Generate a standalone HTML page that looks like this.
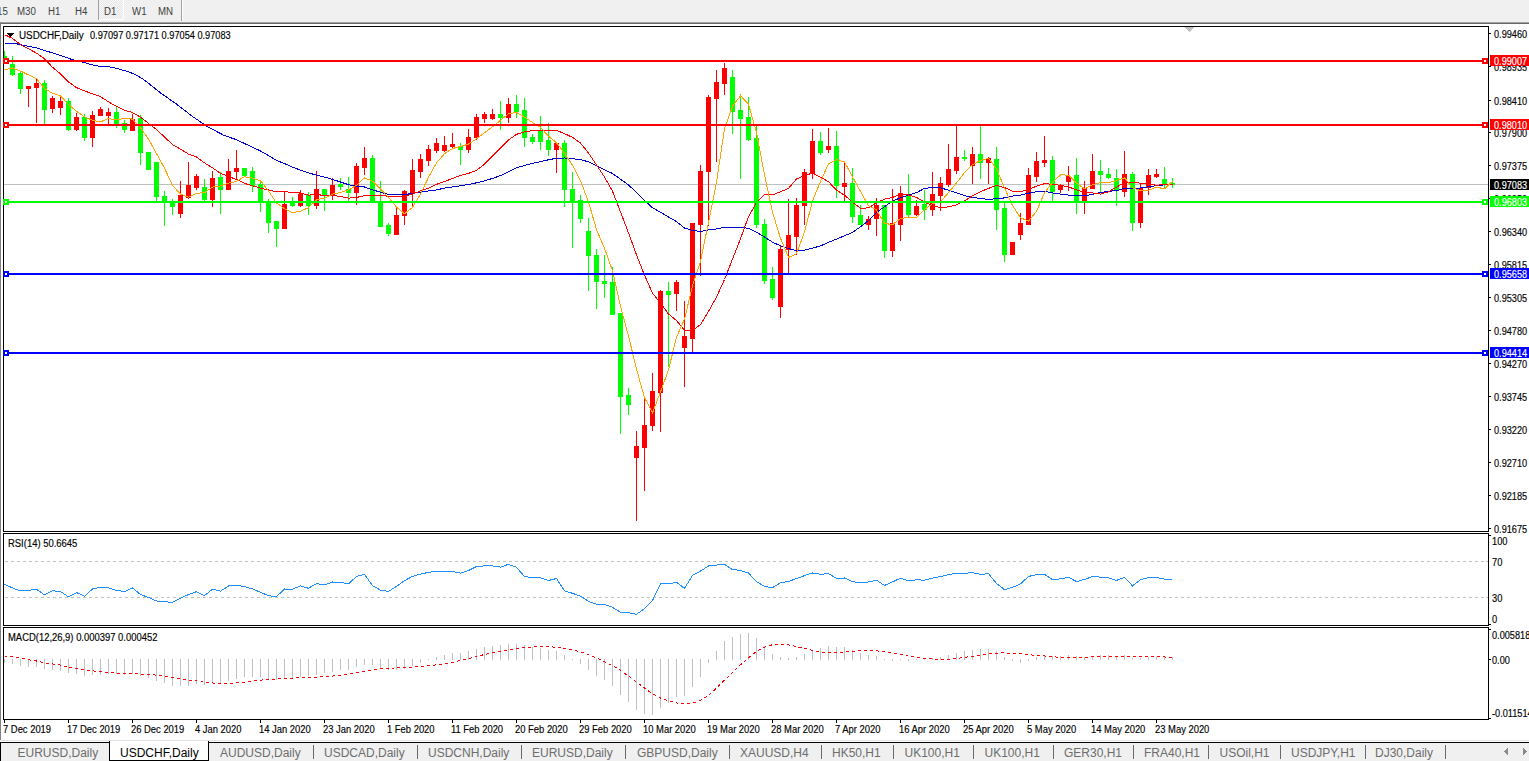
<!DOCTYPE html><html><head><meta charset="utf-8"><style>
*{margin:0;padding:0;box-sizing:border-box}
html,body{width:1529px;height:761px;overflow:hidden;background:#fff;font-family:"Liberation Sans", sans-serif;}
.a{position:absolute;white-space:pre;line-height:1}
.t{position:absolute;white-space:pre;line-height:1;-webkit-text-stroke:0.15px currentColor}
.ax{position:absolute;font-size:9.2px;color:#000;white-space:pre;line-height:1}
.tab{position:absolute;font-size:12px;color:#6d6d6d;white-space:pre;line-height:1;top:746px}
.sep{position:absolute;top:745px;width:1px;height:14px;background:#6a6a6a}
</style></head><body>

<div class="a" style="left:0;top:0;width:1529px;height:22px;background:#f0f0f0"></div>
<div class="a" style="left:0;top:22px;width:1529px;height:1px;background:#a0a0a0"></div>
<div class="a" style="left:0;top:23px;width:1529px;height:1px;background:#696969"></div>
<div class="a" style="left:98px;top:0;width:25px;height:19px;background:repeating-conic-gradient(#f8f8f8 0 25%,#e6e6e6 0 50%) 0 0/2px 2px"></div>
<div class="a" style="left:98px;top:0;width:1px;height:20px;background:#a0a0a0"></div>
<div class="a" style="left:123px;top:0;width:1px;height:20px;background:#fff"></div>
<div class="a" style="left:99px;top:19px;width:25px;height:1px;background:#fff"></div>
<div class="a" style="left:181px;top:0;width:1px;height:21px;background:#a0a0a0"></div>
<div class="a" style="left:182px;top:0;width:1px;height:21px;background:#fff"></div>
<div class="t" style="left:-3.3px;top:7px;font-size:10px;color:#404040;transform:scaleX(0.97);transform-origin:0 0;-webkit-text-stroke:0;">15</div>
<div class="t" style="left:17px;top:7px;font-size:10px;color:#404040;transform:scaleX(0.97);transform-origin:0 0;-webkit-text-stroke:0;">M30</div>
<div class="t" style="left:48px;top:7px;font-size:10px;color:#404040;transform:scaleX(0.97);transform-origin:0 0;-webkit-text-stroke:0;">H1</div>
<div class="t" style="left:75px;top:7px;font-size:10px;color:#404040;transform:scaleX(0.97);transform-origin:0 0;-webkit-text-stroke:0;">H4</div>
<div class="t" style="left:104px;top:7px;font-size:10px;color:#404040;transform:scaleX(0.97);transform-origin:0 0;-webkit-text-stroke:0;">D1</div>
<div class="t" style="left:131.5px;top:7px;font-size:10px;color:#404040;transform:scaleX(0.97);transform-origin:0 0;-webkit-text-stroke:0;">W1</div>
<div class="t" style="left:158px;top:7px;font-size:10px;color:#404040;transform:scaleX(0.97);transform-origin:0 0;-webkit-text-stroke:0;">MN</div>
<div class="a" style="left:0;top:22px;width:1px;height:718px;background:#808080"></div>
<div class="a" style="left:3px;top:26px;width:1486px;height:506px;border:1px solid #000"></div>
<div class="a" style="left:3px;top:533px;width:1486px;height:93px;border:1px solid #000"></div>
<div class="a" style="left:3px;top:627px;width:1486px;height:93px;border:1px solid #000"></div>
<div class="a" style="left:0;top:740px;width:1529px;height:1px;background:#e3e3e3"></div>
<div class="a" style="left:0;top:742px;width:1529px;height:1px;background:#000"></div>
<div class="a" style="left:0;top:743px;width:1529px;height:18px;background:#f0f0f0"></div>
<div class="a" style="left:0;top:742px;width:1px;height:19px;background:#000"></div>
<div class="a" style="left:109px;top:741px;width:100px;height:20px;background:#fff;border:1px solid #000;border-top:none"></div>
<div class="t" style="left:17.5px;top:747px;font-size:12px;color:#6d6d6d;-webkit-text-stroke:0;">EURUSD,Daily</div>
<div class="t" style="left:120px;top:747px;font-size:12px;color:#000;-webkit-text-stroke:0;">USDCHF,Daily</div>
<div class="t" style="left:220px;top:747px;font-size:12px;color:#6d6d6d;-webkit-text-stroke:0;">AUDUSD,Daily</div>
<div class="t" style="left:324px;top:747px;font-size:12px;color:#6d6d6d;-webkit-text-stroke:0;">USDCAD,Daily</div>
<div class="t" style="left:428px;top:747px;font-size:12px;color:#6d6d6d;-webkit-text-stroke:0;">USDCNH,Daily</div>
<div class="t" style="left:532px;top:747px;font-size:12px;color:#6d6d6d;-webkit-text-stroke:0;">EURUSD,Daily</div>
<div class="t" style="left:637px;top:747px;font-size:12px;color:#6d6d6d;-webkit-text-stroke:0;">GBPUSD,Daily</div>
<div class="t" style="left:740px;top:747px;font-size:12px;color:#6d6d6d;-webkit-text-stroke:0;">XAUUSD,H4</div>
<div class="t" style="left:832px;top:747px;font-size:12px;color:#6d6d6d;-webkit-text-stroke:0;">HK50,H1</div>
<div class="t" style="left:904.5px;top:747px;font-size:12px;color:#6d6d6d;-webkit-text-stroke:0;">UK100,H1</div>
<div class="t" style="left:984.5px;top:747px;font-size:12px;color:#6d6d6d;-webkit-text-stroke:0;">UK100,H1</div>
<div class="t" style="left:1064px;top:747px;font-size:12px;color:#6d6d6d;-webkit-text-stroke:0;">GER30,H1</div>
<div class="t" style="left:1144px;top:747px;font-size:12px;color:#6d6d6d;-webkit-text-stroke:0;">FRA40,H1</div>
<div class="t" style="left:1219.5px;top:747px;font-size:12px;color:#6d6d6d;-webkit-text-stroke:0;">USOil,H1</div>
<div class="t" style="left:1291px;top:747px;font-size:12px;color:#6d6d6d;-webkit-text-stroke:0;">USDJPY,H1</div>
<div class="t" style="left:1375px;top:747px;font-size:12px;color:#6d6d6d;-webkit-text-stroke:0;">DJ30,Daily</div>
<div class="sep" style="left:313px"></div>
<div class="sep" style="left:417px"></div>
<div class="sep" style="left:521px"></div>
<div class="sep" style="left:625px"></div>
<div class="sep" style="left:729px"></div>
<div class="sep" style="left:821px"></div>
<div class="sep" style="left:893px"></div>
<div class="sep" style="left:973px"></div>
<div class="sep" style="left:1053px"></div>
<div class="sep" style="left:1133px"></div>
<div class="sep" style="left:1208px"></div>
<div class="sep" style="left:1280px"></div>
<div class="sep" style="left:1365px"></div>
<div class="sep" style="left:1445px"></div>
<div class="a" style="left:1504px;top:751px;width:1px;height:1px;background:#8a8a8a"></div><div class="a" style="left:1505px;top:750px;width:1px;height:3px;background:#8a8a8a"></div><div class="a" style="left:1506px;top:749px;width:1px;height:5px;background:#8a8a8a"></div><div class="a" style="left:1507px;top:748px;width:1px;height:7px;background:#8a8a8a"></div><div class="a" style="left:1523px;top:748px;width:1px;height:7px;background:#8a8a8a"></div><div class="a" style="left:1524px;top:749px;width:1px;height:5px;background:#8a8a8a"></div><div class="a" style="left:1525px;top:750px;width:1px;height:3px;background:#8a8a8a"></div><div class="a" style="left:1526px;top:751px;width:1px;height:1px;background:#8a8a8a"></div>
<div class="t" style="left:1494px;top:30px;font-size:10px;color:#000;transform:scaleX(0.917);transform-origin:0 0;">0.99460</div>
<div class="t" style="left:1494px;top:63px;font-size:10px;color:#000;transform:scaleX(0.917);transform-origin:0 0;">0.98935</div>
<div class="t" style="left:1494px;top:97px;font-size:10px;color:#000;transform:scaleX(0.917);transform-origin:0 0;">0.98410</div>
<div class="t" style="left:1494px;top:129px;font-size:10px;color:#000;transform:scaleX(0.917);transform-origin:0 0;">0.97900</div>
<div class="t" style="left:1494px;top:162px;font-size:10px;color:#000;transform:scaleX(0.917);transform-origin:0 0;">0.97375</div>
<div class="t" style="left:1494px;top:195px;font-size:10px;color:#000;transform:scaleX(0.917);transform-origin:0 0;">0.96850</div>
<div class="t" style="left:1494px;top:228px;font-size:10px;color:#000;transform:scaleX(0.917);transform-origin:0 0;">0.96340</div>
<div class="t" style="left:1494px;top:261px;font-size:10px;color:#000;transform:scaleX(0.917);transform-origin:0 0;">0.95815</div>
<div class="t" style="left:1494px;top:294px;font-size:10px;color:#000;transform:scaleX(0.917);transform-origin:0 0;">0.95305</div>
<div class="t" style="left:1494px;top:327px;font-size:10px;color:#000;transform:scaleX(0.917);transform-origin:0 0;">0.94780</div>
<div class="t" style="left:1494px;top:360px;font-size:10px;color:#000;transform:scaleX(0.917);transform-origin:0 0;">0.94270</div>
<div class="t" style="left:1494px;top:393px;font-size:10px;color:#000;transform:scaleX(0.917);transform-origin:0 0;">0.93745</div>
<div class="t" style="left:1494px;top:426px;font-size:10px;color:#000;transform:scaleX(0.917);transform-origin:0 0;">0.93220</div>
<div class="t" style="left:1494px;top:459px;font-size:10px;color:#000;transform:scaleX(0.917);transform-origin:0 0;">0.92710</div>
<div class="t" style="left:1494px;top:492px;font-size:10px;color:#000;transform:scaleX(0.917);transform-origin:0 0;">0.92185</div>
<div class="t" style="left:1494px;top:525px;font-size:10px;color:#000;transform:scaleX(0.917);transform-origin:0 0;">0.91675</div>
<div class="t" style="left:1492px;top:537px;font-size:10px;color:#000;transform:scaleX(0.93);transform-origin:0 0;">100</div>
<div class="t" style="left:1492px;top:558px;font-size:10px;color:#000;transform:scaleX(0.93);transform-origin:0 0;">70</div>
<div class="t" style="left:1492px;top:594px;font-size:10px;color:#000;transform:scaleX(0.93);transform-origin:0 0;">30</div>
<div class="t" style="left:1492px;top:615px;font-size:10px;color:#000;transform:scaleX(0.93);transform-origin:0 0;">0</div>
<div class="t" style="left:1492px;top:631px;font-size:10px;color:#000;transform:scaleX(0.917);transform-origin:0 0;">0.005818</div>
<div class="t" style="left:1492px;top:656px;font-size:10px;color:#000;transform:scaleX(0.917);transform-origin:0 0;">0.00</div>
<div class="t" style="left:1492px;top:709px;font-size:10px;color:#000;transform:scaleX(0.917);transform-origin:0 0;">-0.011514</div>
<div class="t" style="left:3px;top:725px;font-size:10px;color:#000;transform:scaleX(0.94);transform-origin:0 0;">7 Dec 2019</div>
<div class="t" style="left:67px;top:725px;font-size:10px;color:#000;transform:scaleX(0.94);transform-origin:0 0;">17 Dec 2019</div>
<div class="t" style="left:131px;top:725px;font-size:10px;color:#000;transform:scaleX(0.94);transform-origin:0 0;">26 Dec 2019</div>
<div class="t" style="left:195px;top:725px;font-size:10px;color:#000;transform:scaleX(0.94);transform-origin:0 0;">4 Jan 2020</div>
<div class="t" style="left:259px;top:725px;font-size:10px;color:#000;transform:scaleX(0.94);transform-origin:0 0;">14 Jan 2020</div>
<div class="t" style="left:323px;top:725px;font-size:10px;color:#000;transform:scaleX(0.94);transform-origin:0 0;">23 Jan 2020</div>
<div class="t" style="left:387px;top:725px;font-size:10px;color:#000;transform:scaleX(0.94);transform-origin:0 0;">1 Feb 2020</div>
<div class="t" style="left:451px;top:725px;font-size:10px;color:#000;transform:scaleX(0.94);transform-origin:0 0;">11 Feb 2020</div>
<div class="t" style="left:515px;top:725px;font-size:10px;color:#000;transform:scaleX(0.94);transform-origin:0 0;">20 Feb 2020</div>
<div class="t" style="left:579px;top:725px;font-size:10px;color:#000;transform:scaleX(0.94);transform-origin:0 0;">29 Feb 2020</div>
<div class="t" style="left:643px;top:725px;font-size:10px;color:#000;transform:scaleX(0.94);transform-origin:0 0;">10 Mar 2020</div>
<div class="t" style="left:707px;top:725px;font-size:10px;color:#000;transform:scaleX(0.94);transform-origin:0 0;">19 Mar 2020</div>
<div class="t" style="left:771px;top:725px;font-size:10px;color:#000;transform:scaleX(0.94);transform-origin:0 0;">28 Mar 2020</div>
<div class="t" style="left:835px;top:725px;font-size:10px;color:#000;transform:scaleX(0.94);transform-origin:0 0;">7 Apr 2020</div>
<div class="t" style="left:899px;top:725px;font-size:10px;color:#000;transform:scaleX(0.94);transform-origin:0 0;">16 Apr 2020</div>
<div class="t" style="left:963px;top:725px;font-size:10px;color:#000;transform:scaleX(0.94);transform-origin:0 0;">25 Apr 2020</div>
<div class="t" style="left:1027px;top:725px;font-size:10px;color:#000;transform:scaleX(0.94);transform-origin:0 0;">5 May 2020</div>
<div class="t" style="left:1091px;top:725px;font-size:10px;color:#000;transform:scaleX(0.94);transform-origin:0 0;">14 May 2020</div>
<div class="t" style="left:1155px;top:725px;font-size:10px;color:#000;transform:scaleX(0.94);transform-origin:0 0;">23 May 2020</div>
<div class="t" style="left:18.5px;top:31px;font-size:10px;color:#000;transform:scaleX(0.985);transform-origin:0 0;">USDCHF,Daily</div>
<div class="t" style="left:90px;top:31px;font-size:10px;color:#000;transform:scaleX(0.92);transform-origin:0 0;">0.97097 0.97171 0.97054 0.97083</div>
<div class="t" style="left:7.5px;top:539px;font-size:10px;color:#000;transform:scaleX(0.944);transform-origin:0 0;">RSI(14) 50.6645</div>
<div class="t" style="left:7.5px;top:633px;font-size:10px;color:#000;transform:scaleX(0.943);transform-origin:0 0;">MACD(12,26,9) 0.000397 0.000452</div>
<svg class="a" style="left:0;top:0" width="1529" height="761" shape-rendering="crispEdges"><rect x="1489" y="33" width="2" height="1" fill="#000"/><rect x="1489" y="66" width="2" height="1" fill="#000"/><rect x="1489" y="100" width="2" height="1" fill="#000"/><rect x="1489" y="132" width="2" height="1" fill="#000"/><rect x="1489" y="165" width="2" height="1" fill="#000"/><rect x="1489" y="198" width="2" height="1" fill="#000"/><rect x="1489" y="231" width="2" height="1" fill="#000"/><rect x="1489" y="264" width="2" height="1" fill="#000"/><rect x="1489" y="297" width="2" height="1" fill="#000"/><rect x="1489" y="330" width="2" height="1" fill="#000"/><rect x="1489" y="363" width="2" height="1" fill="#000"/><rect x="1489" y="396" width="2" height="1" fill="#000"/><rect x="1489" y="429" width="2" height="1" fill="#000"/><rect x="1489" y="462" width="2" height="1" fill="#000"/><rect x="1489" y="495" width="2" height="1" fill="#000"/><rect x="1489" y="528" width="2" height="1" fill="#000"/><rect x="1489" y="535" width="2" height="1" fill="#000"/><rect x="1486" y="561" width="2" height="1" fill="#c0c0c0"/><rect x="1486" y="597" width="2" height="1" fill="#c0c0c0"/><rect x="1489" y="624" width="2" height="1" fill="#000"/><rect x="1489" y="629" width="2" height="1" fill="#000"/><rect x="1489" y="659" width="2" height="1" fill="#000"/><rect x="1489" y="718" width="2" height="1" fill="#000"/><line x1="5" y1="561.5" x2="1488" y2="561.5" stroke="#c0c0c0" stroke-width="1" stroke-dasharray="3,3"/><line x1="5" y1="597.5" x2="1488" y2="597.5" stroke="#c0c0c0" stroke-width="1" stroke-dasharray="3,3"/><rect x="4" y="720" width="1" height="3" fill="#000"/><rect x="68" y="720" width="1" height="3" fill="#000"/><rect x="132" y="720" width="1" height="3" fill="#000"/><rect x="196" y="720" width="1" height="3" fill="#000"/><rect x="260" y="720" width="1" height="3" fill="#000"/><rect x="324" y="720" width="1" height="3" fill="#000"/><rect x="388" y="720" width="1" height="3" fill="#000"/><rect x="452" y="720" width="1" height="3" fill="#000"/><rect x="516" y="720" width="1" height="3" fill="#000"/><rect x="580" y="720" width="1" height="3" fill="#000"/><rect x="644" y="720" width="1" height="3" fill="#000"/><rect x="708" y="720" width="1" height="3" fill="#000"/><rect x="772" y="720" width="1" height="3" fill="#000"/><rect x="836" y="720" width="1" height="3" fill="#000"/><rect x="900" y="720" width="1" height="3" fill="#000"/><rect x="964" y="720" width="1" height="3" fill="#000"/><rect x="1028" y="720" width="1" height="3" fill="#000"/><rect x="1092" y="720" width="1" height="3" fill="#000"/><rect x="1156" y="720" width="1" height="3" fill="#000"/><defs><clipPath id="cm"><rect x="4" y="27" width="1484" height="504"/></clipPath><clipPath id="cr"><rect x="4" y="534" width="1484" height="91"/></clipPath><clipPath id="cd"><rect x="4" y="628" width="1484" height="91"/></clipPath></defs><g clip-path="url(#cm)"><rect x="4" y="184" width="1484" height="1" fill="#c0c0c0"/><rect x="4" y="51" width="1" height="10" fill="#00ff00"/><rect x="4" y="56" width="3" height="5" fill="#00ff00"/><rect x="12" y="56" width="1" height="20" fill="#00ff00"/><rect x="10" y="64" width="5" height="11" fill="#00ff00"/><rect x="20" y="71" width="1" height="23" fill="#00ff00"/><rect x="18" y="73" width="5" height="16" fill="#00ff00"/><rect x="28" y="86" width="1" height="21" fill="#ff0000"/><rect x="26" y="86" width="5" height="3" fill="#ff0000"/><rect x="36" y="79" width="1" height="44" fill="#ff0000"/><rect x="34" y="83" width="5" height="5" fill="#ff0000"/><rect x="44" y="80" width="1" height="44" fill="#00ff00"/><rect x="42" y="83" width="5" height="27" fill="#00ff00"/><rect x="52" y="96" width="1" height="17" fill="#ff0000"/><rect x="50" y="98" width="5" height="11" fill="#ff0000"/><rect x="60" y="95" width="1" height="20" fill="#ff0000"/><rect x="58" y="101" width="5" height="7" fill="#ff0000"/><rect x="68" y="98" width="1" height="33" fill="#00ff00"/><rect x="66" y="101" width="5" height="29" fill="#00ff00"/><rect x="76" y="113" width="1" height="18" fill="#ff0000"/><rect x="74" y="117" width="5" height="13" fill="#ff0000"/><rect x="84" y="114" width="1" height="27" fill="#00ff00"/><rect x="82" y="117" width="5" height="21" fill="#00ff00"/><rect x="92" y="111" width="1" height="36" fill="#ff0000"/><rect x="90" y="115" width="5" height="23" fill="#ff0000"/><rect x="100" y="107" width="1" height="9" fill="#ff0000"/><rect x="98" y="109" width="5" height="7" fill="#ff0000"/><rect x="108" y="108" width="1" height="18" fill="#ff0000"/><rect x="106" y="112" width="5" height="4" fill="#ff0000"/><rect x="116" y="106" width="1" height="22" fill="#00ff00"/><rect x="114" y="112" width="5" height="13" fill="#00ff00"/><rect x="124" y="120" width="1" height="13" fill="#00ff00"/><rect x="122" y="123" width="5" height="7" fill="#00ff00"/><rect x="132" y="114" width="1" height="17" fill="#ff0000"/><rect x="130" y="119" width="5" height="12" fill="#ff0000"/><rect x="140" y="115" width="1" height="50" fill="#00ff00"/><rect x="138" y="118" width="5" height="35" fill="#00ff00"/><rect x="148" y="152" width="1" height="18" fill="#00ff00"/><rect x="146" y="152" width="5" height="18" fill="#00ff00"/><rect x="156" y="162" width="1" height="40" fill="#00ff00"/><rect x="154" y="162" width="5" height="35" fill="#00ff00"/><rect x="164" y="191" width="1" height="35" fill="#00ff00"/><rect x="162" y="196" width="5" height="7" fill="#00ff00"/><rect x="172" y="199" width="1" height="16" fill="#00ff00"/><rect x="170" y="201" width="5" height="6" fill="#00ff00"/><rect x="180" y="181" width="1" height="37" fill="#ff0000"/><rect x="178" y="195" width="5" height="19" fill="#ff0000"/><rect x="188" y="162" width="1" height="37" fill="#ff0000"/><rect x="186" y="185" width="5" height="13" fill="#ff0000"/><rect x="196" y="174" width="1" height="16" fill="#ff0000"/><rect x="194" y="176" width="5" height="12" fill="#ff0000"/><rect x="204" y="179" width="1" height="22" fill="#00ff00"/><rect x="202" y="187" width="5" height="13" fill="#00ff00"/><rect x="212" y="171" width="1" height="36" fill="#ff0000"/><rect x="210" y="178" width="5" height="22" fill="#ff0000"/><rect x="220" y="172" width="1" height="42" fill="#00ff00"/><rect x="218" y="177" width="5" height="13" fill="#00ff00"/><rect x="228" y="159" width="1" height="31" fill="#ff0000"/><rect x="226" y="171" width="5" height="19" fill="#ff0000"/><rect x="236" y="150" width="1" height="30" fill="#ff0000"/><rect x="234" y="168" width="5" height="4" fill="#ff0000"/><rect x="244" y="168" width="1" height="9" fill="#00ff00"/><rect x="242" y="168" width="5" height="8" fill="#00ff00"/><rect x="252" y="167" width="1" height="25" fill="#00ff00"/><rect x="250" y="171" width="5" height="15" fill="#00ff00"/><rect x="260" y="181" width="1" height="31" fill="#00ff00"/><rect x="258" y="184" width="5" height="19" fill="#00ff00"/><rect x="268" y="199" width="1" height="34" fill="#00ff00"/><rect x="266" y="202" width="5" height="21" fill="#00ff00"/><rect x="276" y="221" width="1" height="26" fill="#00ff00"/><rect x="274" y="221" width="5" height="8" fill="#00ff00"/><rect x="284" y="192" width="1" height="37" fill="#ff0000"/><rect x="282" y="204" width="5" height="25" fill="#ff0000"/><rect x="292" y="197" width="1" height="10" fill="#00ff00"/><rect x="290" y="201" width="5" height="5" fill="#00ff00"/><rect x="300" y="190" width="1" height="17" fill="#ff0000"/><rect x="298" y="194" width="5" height="12" fill="#ff0000"/><rect x="308" y="192" width="1" height="23" fill="#00ff00"/><rect x="306" y="195" width="5" height="11" fill="#00ff00"/><rect x="316" y="171" width="1" height="38" fill="#ff0000"/><rect x="314" y="189" width="5" height="17" fill="#ff0000"/><rect x="324" y="189" width="1" height="22" fill="#00ff00"/><rect x="322" y="189" width="5" height="7" fill="#00ff00"/><rect x="332" y="178" width="1" height="22" fill="#ff0000"/><rect x="330" y="185" width="5" height="11" fill="#ff0000"/><rect x="340" y="178" width="1" height="12" fill="#00ff00"/><rect x="338" y="184" width="5" height="3" fill="#00ff00"/><rect x="348" y="177" width="1" height="25" fill="#00ff00"/><rect x="346" y="189" width="5" height="4" fill="#00ff00"/><rect x="356" y="163" width="1" height="42" fill="#ff0000"/><rect x="354" y="166" width="5" height="27" fill="#ff0000"/><rect x="364" y="147" width="1" height="28" fill="#ff0000"/><rect x="362" y="158" width="5" height="10" fill="#ff0000"/><rect x="372" y="155" width="1" height="47" fill="#00ff00"/><rect x="370" y="158" width="5" height="44" fill="#00ff00"/><rect x="380" y="181" width="1" height="46" fill="#00ff00"/><rect x="378" y="201" width="5" height="26" fill="#00ff00"/><rect x="388" y="223" width="1" height="13" fill="#00ff00"/><rect x="386" y="225" width="5" height="9" fill="#00ff00"/><rect x="396" y="208" width="1" height="27" fill="#ff0000"/><rect x="394" y="215" width="5" height="20" fill="#ff0000"/><rect x="404" y="190" width="1" height="35" fill="#ff0000"/><rect x="402" y="191" width="5" height="25" fill="#ff0000"/><rect x="412" y="159" width="1" height="47" fill="#ff0000"/><rect x="410" y="170" width="5" height="24" fill="#ff0000"/><rect x="420" y="154" width="1" height="24" fill="#ff0000"/><rect x="418" y="159" width="5" height="13" fill="#ff0000"/><rect x="428" y="145" width="1" height="21" fill="#ff0000"/><rect x="426" y="149" width="5" height="12" fill="#ff0000"/><rect x="436" y="138" width="1" height="15" fill="#ff0000"/><rect x="434" y="143" width="5" height="8" fill="#ff0000"/><rect x="444" y="136" width="1" height="16" fill="#ff0000"/><rect x="442" y="145" width="5" height="6" fill="#ff0000"/><rect x="452" y="133" width="1" height="16" fill="#ff0000"/><rect x="450" y="144" width="5" height="3" fill="#ff0000"/><rect x="460" y="143" width="1" height="22" fill="#00ff00"/><rect x="458" y="146" width="5" height="4" fill="#00ff00"/><rect x="468" y="129" width="1" height="24" fill="#ff0000"/><rect x="466" y="137" width="5" height="13" fill="#ff0000"/><rect x="476" y="114" width="1" height="26" fill="#ff0000"/><rect x="474" y="117" width="5" height="21" fill="#ff0000"/><rect x="484" y="112" width="1" height="11" fill="#ff0000"/><rect x="482" y="114" width="5" height="5" fill="#ff0000"/><rect x="492" y="109" width="1" height="11" fill="#ff0000"/><rect x="490" y="114" width="5" height="5" fill="#ff0000"/><rect x="500" y="101" width="1" height="29" fill="#00ff00"/><rect x="498" y="114" width="5" height="4" fill="#00ff00"/><rect x="508" y="98" width="1" height="25" fill="#ff0000"/><rect x="506" y="104" width="5" height="14" fill="#ff0000"/><rect x="516" y="95" width="1" height="23" fill="#00ff00"/><rect x="514" y="104" width="5" height="8" fill="#00ff00"/><rect x="524" y="98" width="1" height="49" fill="#00ff00"/><rect x="522" y="110" width="5" height="28" fill="#00ff00"/><rect x="532" y="134" width="1" height="10" fill="#00ff00"/><rect x="530" y="137" width="5" height="5" fill="#00ff00"/><rect x="540" y="116" width="1" height="34" fill="#00ff00"/><rect x="538" y="131" width="5" height="11" fill="#00ff00"/><rect x="548" y="123" width="1" height="33" fill="#00ff00"/><rect x="546" y="140" width="5" height="10" fill="#00ff00"/><rect x="556" y="143" width="1" height="30" fill="#ff0000"/><rect x="554" y="143" width="5" height="7" fill="#ff0000"/><rect x="564" y="140" width="1" height="67" fill="#00ff00"/><rect x="562" y="143" width="5" height="47" fill="#00ff00"/><rect x="572" y="172" width="1" height="76" fill="#00ff00"/><rect x="570" y="189" width="5" height="14" fill="#00ff00"/><rect x="580" y="195" width="1" height="28" fill="#00ff00"/><rect x="578" y="200" width="5" height="19" fill="#00ff00"/><rect x="588" y="218" width="1" height="73" fill="#00ff00"/><rect x="586" y="231" width="5" height="25" fill="#00ff00"/><rect x="596" y="249" width="1" height="60" fill="#00ff00"/><rect x="594" y="255" width="5" height="27" fill="#00ff00"/><rect x="604" y="255" width="1" height="43" fill="#00ff00"/><rect x="602" y="281" width="5" height="3" fill="#00ff00"/><rect x="612" y="267" width="1" height="48" fill="#00ff00"/><rect x="610" y="282" width="5" height="33" fill="#00ff00"/><rect x="620" y="313" width="1" height="121" fill="#00ff00"/><rect x="618" y="313" width="5" height="84" fill="#00ff00"/><rect x="628" y="388" width="1" height="27" fill="#00ff00"/><rect x="626" y="395" width="5" height="10" fill="#00ff00"/><rect x="636" y="431" width="1" height="90" fill="#ff0000"/><rect x="634" y="446" width="5" height="12" fill="#ff0000"/><rect x="644" y="397" width="1" height="94" fill="#ff0000"/><rect x="642" y="425" width="5" height="23" fill="#ff0000"/><rect x="652" y="373" width="1" height="58" fill="#ff0000"/><rect x="650" y="391" width="5" height="35" fill="#ff0000"/><rect x="660" y="290" width="1" height="142" fill="#ff0000"/><rect x="658" y="291" width="5" height="102" fill="#ff0000"/><rect x="668" y="282" width="1" height="85" fill="#00ff00"/><rect x="666" y="291" width="5" height="4" fill="#00ff00"/><rect x="676" y="280" width="1" height="31" fill="#ff0000"/><rect x="674" y="282" width="5" height="12" fill="#ff0000"/><rect x="684" y="301" width="1" height="86" fill="#ff0000"/><rect x="682" y="336" width="5" height="12" fill="#ff0000"/><rect x="692" y="223" width="1" height="129" fill="#ff0000"/><rect x="690" y="223" width="5" height="116" fill="#ff0000"/><rect x="700" y="165" width="1" height="111" fill="#ff0000"/><rect x="698" y="171" width="5" height="54" fill="#ff0000"/><rect x="708" y="95" width="1" height="131" fill="#ff0000"/><rect x="706" y="97" width="5" height="75" fill="#ff0000"/><rect x="716" y="70" width="1" height="92" fill="#ff0000"/><rect x="714" y="82" width="5" height="17" fill="#ff0000"/><rect x="724" y="63" width="1" height="32" fill="#ff0000"/><rect x="722" y="68" width="5" height="16" fill="#ff0000"/><rect x="732" y="70" width="1" height="64" fill="#00ff00"/><rect x="730" y="77" width="5" height="35" fill="#00ff00"/><rect x="740" y="94" width="1" height="85" fill="#00ff00"/><rect x="738" y="110" width="5" height="9" fill="#00ff00"/><rect x="748" y="97" width="1" height="44" fill="#00ff00"/><rect x="746" y="117" width="5" height="23" fill="#00ff00"/><rect x="756" y="126" width="1" height="102" fill="#00ff00"/><rect x="754" y="138" width="5" height="87" fill="#00ff00"/><rect x="764" y="219" width="1" height="65" fill="#00ff00"/><rect x="762" y="224" width="5" height="57" fill="#00ff00"/><rect x="772" y="267" width="1" height="33" fill="#00ff00"/><rect x="770" y="279" width="5" height="19" fill="#00ff00"/><rect x="780" y="246" width="1" height="72" fill="#ff0000"/><rect x="778" y="249" width="5" height="58" fill="#ff0000"/><rect x="788" y="199" width="1" height="74" fill="#ff0000"/><rect x="786" y="235" width="5" height="15" fill="#ff0000"/><rect x="796" y="198" width="1" height="57" fill="#ff0000"/><rect x="794" y="205" width="5" height="32" fill="#ff0000"/><rect x="804" y="169" width="1" height="56" fill="#ff0000"/><rect x="802" y="172" width="5" height="34" fill="#ff0000"/><rect x="812" y="129" width="1" height="50" fill="#ff0000"/><rect x="810" y="141" width="5" height="33" fill="#ff0000"/><rect x="820" y="132" width="1" height="23" fill="#00ff00"/><rect x="818" y="141" width="5" height="12" fill="#00ff00"/><rect x="828" y="128" width="1" height="25" fill="#ff0000"/><rect x="826" y="146" width="5" height="4" fill="#ff0000"/><rect x="836" y="131" width="1" height="67" fill="#00ff00"/><rect x="834" y="146" width="5" height="40" fill="#00ff00"/><rect x="844" y="162" width="1" height="39" fill="#ff0000"/><rect x="842" y="183" width="5" height="4" fill="#ff0000"/><rect x="852" y="168" width="1" height="55" fill="#00ff00"/><rect x="850" y="183" width="5" height="34" fill="#00ff00"/><rect x="860" y="205" width="1" height="20" fill="#00ff00"/><rect x="858" y="215" width="5" height="10" fill="#00ff00"/><rect x="868" y="216" width="1" height="14" fill="#ff0000"/><rect x="866" y="219" width="5" height="6" fill="#ff0000"/><rect x="876" y="198" width="1" height="38" fill="#ff0000"/><rect x="874" y="205" width="5" height="14" fill="#ff0000"/><rect x="884" y="205" width="1" height="53" fill="#00ff00"/><rect x="882" y="205" width="5" height="46" fill="#00ff00"/><rect x="892" y="189" width="1" height="68" fill="#ff0000"/><rect x="890" y="223" width="5" height="28" fill="#ff0000"/><rect x="900" y="186" width="1" height="55" fill="#ff0000"/><rect x="898" y="193" width="5" height="32" fill="#ff0000"/><rect x="908" y="174" width="1" height="44" fill="#00ff00"/><rect x="906" y="194" width="5" height="21" fill="#00ff00"/><rect x="916" y="200" width="1" height="16" fill="#ff0000"/><rect x="914" y="206" width="5" height="9" fill="#ff0000"/><rect x="924" y="190" width="1" height="30" fill="#00ff00"/><rect x="922" y="204" width="5" height="6" fill="#00ff00"/><rect x="932" y="172" width="1" height="44" fill="#ff0000"/><rect x="930" y="194" width="5" height="16" fill="#ff0000"/><rect x="940" y="177" width="1" height="34" fill="#ff0000"/><rect x="938" y="183" width="5" height="13" fill="#ff0000"/><rect x="948" y="144" width="1" height="43" fill="#ff0000"/><rect x="946" y="169" width="5" height="16" fill="#ff0000"/><rect x="956" y="126" width="1" height="48" fill="#ff0000"/><rect x="954" y="157" width="5" height="14" fill="#ff0000"/><rect x="964" y="150" width="1" height="11" fill="#00ff00"/><rect x="962" y="157" width="5" height="2" fill="#00ff00"/><rect x="972" y="147" width="1" height="37" fill="#ff0000"/><rect x="970" y="154" width="5" height="12" fill="#ff0000"/><rect x="980" y="126" width="1" height="53" fill="#00ff00"/><rect x="978" y="154" width="5" height="9" fill="#00ff00"/><rect x="988" y="157" width="1" height="27" fill="#ff0000"/><rect x="986" y="158" width="5" height="5" fill="#ff0000"/><rect x="996" y="147" width="1" height="83" fill="#00ff00"/><rect x="994" y="159" width="5" height="51" fill="#00ff00"/><rect x="1004" y="203" width="1" height="59" fill="#00ff00"/><rect x="1002" y="208" width="5" height="47" fill="#00ff00"/><rect x="1012" y="242" width="1" height="13" fill="#ff0000"/><rect x="1010" y="242" width="5" height="13" fill="#ff0000"/><rect x="1020" y="213" width="1" height="27" fill="#ff0000"/><rect x="1018" y="223" width="5" height="12" fill="#ff0000"/><rect x="1028" y="168" width="1" height="57" fill="#ff0000"/><rect x="1026" y="175" width="5" height="50" fill="#ff0000"/><rect x="1036" y="152" width="1" height="30" fill="#ff0000"/><rect x="1034" y="161" width="5" height="16" fill="#ff0000"/><rect x="1044" y="136" width="1" height="31" fill="#ff0000"/><rect x="1042" y="160" width="5" height="3" fill="#ff0000"/><rect x="1052" y="156" width="1" height="46" fill="#00ff00"/><rect x="1050" y="160" width="5" height="32" fill="#00ff00"/><rect x="1060" y="184" width="1" height="9" fill="#ff0000"/><rect x="1058" y="185" width="5" height="5" fill="#ff0000"/><rect x="1068" y="166" width="1" height="25" fill="#ff0000"/><rect x="1066" y="176" width="5" height="6" fill="#ff0000"/><rect x="1076" y="158" width="1" height="56" fill="#00ff00"/><rect x="1074" y="175" width="5" height="27" fill="#00ff00"/><rect x="1084" y="181" width="1" height="33" fill="#ff0000"/><rect x="1082" y="188" width="5" height="14" fill="#ff0000"/><rect x="1092" y="154" width="1" height="35" fill="#ff0000"/><rect x="1090" y="171" width="5" height="18" fill="#ff0000"/><rect x="1100" y="160" width="1" height="33" fill="#00ff00"/><rect x="1098" y="171" width="5" height="4" fill="#00ff00"/><rect x="1108" y="168" width="1" height="11" fill="#00ff00"/><rect x="1106" y="174" width="5" height="4" fill="#00ff00"/><rect x="1116" y="169" width="1" height="37" fill="#00ff00"/><rect x="1114" y="178" width="5" height="13" fill="#00ff00"/><rect x="1124" y="151" width="1" height="46" fill="#ff0000"/><rect x="1122" y="174" width="5" height="18" fill="#ff0000"/><rect x="1132" y="172" width="1" height="59" fill="#00ff00"/><rect x="1130" y="174" width="5" height="49" fill="#00ff00"/><rect x="1140" y="183" width="1" height="45" fill="#ff0000"/><rect x="1138" y="188" width="5" height="35" fill="#ff0000"/><rect x="1148" y="169" width="1" height="26" fill="#ff0000"/><rect x="1146" y="175" width="5" height="13" fill="#ff0000"/><rect x="1156" y="169" width="1" height="9" fill="#ff0000"/><rect x="1154" y="174" width="5" height="3" fill="#ff0000"/><rect x="1164" y="167" width="1" height="22" fill="#00ff00"/><rect x="1162" y="179" width="5" height="5" fill="#00ff00"/><rect x="1172" y="178" width="1" height="10" fill="#00ff00"/><rect x="1170" y="183" width="5" height="2" fill="#00ff00"/><polyline points="4.5,43.8 16.5,43.8 24.5,45.5 36.5,47.9 48.5,51.7 60.5,55.5 72.5,59.7 84.5,62.7 96.5,65.9 112.5,67.2 128.5,71.8 136.5,75.1 144.5,80.1 160.5,92.9 176.5,104.1 192.5,116.5 208.5,127.3 224.5,135.6 236.5,139.7 244.5,143.5 252.5,147.2 260.5,151.0 268.5,155.6 276.5,160.4 284.5,163.6 292.5,167.1 300.5,170.2 308.5,172.8 316.5,175.2 324.5,177.1 332.5,179.4 340.5,182.0 348.5,184.7 356.5,186.1 364.5,187.0 372.5,189.8 380.5,192.2 388.5,194.4 396.5,195.0 404.5,194.6 412.5,193.4 420.5,192.2 428.5,191.0 436.5,189.9 444.5,188.1 452.5,187.0 460.5,185.7 468.5,184.5 476.5,182.8 484.5,180.8 492.5,178.4 500.5,175.6 508.5,171.7 516.5,167.8 524.5,165.5 532.5,163.4 540.5,161.6 548.5,159.8 556.5,158.2 564.5,158.0 572.5,158.6 580.5,159.7 588.5,161.8 596.5,165.6 604.5,169.8 612.5,173.5 620.5,179.2 628.5,184.9 636.5,192.6 644.5,200.4 652.5,207.8 660.5,212.2 668.5,217.0 676.5,221.6 684.5,228.0 692.5,230.6 700.5,231.4 708.5,230.0 716.5,228.9 724.5,227.3 732.5,227.2 740.5,227.3 748.5,228.4 756.5,232.2 764.5,237.0 772.5,242.2 780.5,245.8 788.5,248.6 796.5,250.7 804.5,250.1 812.5,248.1 820.5,245.9 828.5,242.3 836.5,239.1 844.5,235.7 852.5,232.5 860.5,226.7 868.5,220.6 876.5,212.5 884.5,206.7 892.5,201.1 900.5,197.8 908.5,195.2 916.5,192.6 924.5,188.4 932.5,187.4 940.5,187.8 948.5,190.2 956.5,192.7 964.5,195.7 972.5,197.2 980.5,198.6 988.5,199.3 996.5,198.8 1004.5,197.9 1012.5,196.1 1020.5,195.2 1028.5,193.2 1036.5,191.7 1044.5,191.3 1052.5,193.0 1060.5,194.1 1068.5,195.1 1076.5,195.6 1084.5,195.8 1092.5,194.3 1100.5,192.6 1108.5,191.2 1116.5,190.7 1124.5,188.2 1132.5,188.2 1140.5,188.0 1148.5,186.7 1156.5,185.6 1164.5,184.8 1172.5,184.4" fill="none" stroke="#0000cd" stroke-width="1"/><polyline points="4.5,34.6 12.5,38.4 20.5,44.6 28.5,48.8 36.5,53.1 44.5,58.8 52.5,67.3 60.5,73.9 68.5,82.0 76.5,87.6 84.5,90.9 92.5,93.8 100.5,96.6 108.5,101.8 116.5,106.4 124.5,110.3 132.5,112.5 140.5,117.2 148.5,123.4 156.5,129.6 164.5,137.0 172.5,144.5 180.5,149.2 188.5,154.1 196.5,156.9 204.5,162.9 212.5,167.8 220.5,173.3 228.5,176.6 236.5,179.4 244.5,183.4 252.5,185.8 260.5,188.1 268.5,190.0 276.5,191.9 284.5,191.7 292.5,192.4 300.5,193.1 308.5,195.1 316.5,194.4 324.5,195.6 332.5,195.4 340.5,196.4 348.5,198.1 356.5,197.5 364.5,195.6 372.5,195.5 380.5,195.8 388.5,196.1 396.5,196.9 404.5,195.9 412.5,194.2 420.5,190.9 428.5,188.1 436.5,184.4 444.5,181.5 452.5,178.5 460.5,175.4 468.5,173.4 476.5,170.4 484.5,164.2 492.5,156.2 500.5,147.9 508.5,140.0 516.5,134.3 524.5,131.9 532.5,130.6 540.5,130.1 548.5,130.5 556.5,130.4 564.5,133.6 572.5,137.4 580.5,143.1 588.5,153.0 596.5,164.9 604.5,177.0 612.5,191.1 620.5,211.9 628.5,232.9 636.5,254.9 644.5,275.2 652.5,293.1 660.5,303.2 668.5,314.0 676.5,320.6 684.5,330.2 692.5,330.6 700.5,324.6 708.5,311.4 716.5,297.1 724.5,279.5 732.5,259.1 740.5,238.7 748.5,216.8 756.5,202.4 764.5,194.5 772.5,194.9 780.5,191.7 788.5,188.4 796.5,179.0 804.5,175.4 812.5,173.2 820.5,177.1 828.5,181.7 836.5,190.1 844.5,195.2 852.5,202.2 860.5,208.3 868.5,207.9 876.5,202.6 884.5,199.2 892.5,197.4 900.5,194.4 908.5,195.0 916.5,197.4 924.5,202.3 932.5,205.3 940.5,207.9 948.5,206.8 956.5,204.9 964.5,200.8 972.5,195.8 980.5,191.7 988.5,188.4 996.5,185.4 1004.5,187.6 1012.5,191.1 1020.5,191.8 1028.5,189.6 1036.5,186.1 1044.5,183.7 1052.5,184.3 1060.5,185.4 1068.5,186.8 1076.5,189.9 1084.5,192.3 1092.5,192.9 1100.5,194.1 1108.5,191.8 1116.5,187.2 1124.5,182.4 1132.5,182.3 1140.5,183.2 1148.5,184.2 1156.5,185.2 1164.5,184.6 1172.5,184.6" fill="none" stroke="#ff0000" stroke-width="1"/><polyline points="4.5,69.7 12.5,68.0 20.5,71.1 28.5,74.9 36.5,78.7 44.5,88.5 52.5,93.3 60.5,95.9 68.5,104.5 76.5,111.3 84.5,116.9 92.5,120.3 100.5,121.9 108.5,118.5 116.5,119.9 124.5,118.3 132.5,119.1 140.5,127.7 148.5,139.1 156.5,153.5 164.5,168.1 172.5,185.5 180.5,194.1 188.5,197.3 196.5,193.3 204.5,192.7 212.5,187.1 220.5,185.9 228.5,183.1 236.5,181.5 244.5,176.7 252.5,178.1 260.5,180.7 268.5,190.9 276.5,202.9 284.5,208.7 292.5,212.7 300.5,211.1 308.5,207.7 316.5,199.9 324.5,198.1 332.5,194.1 340.5,192.5 348.5,189.9 356.5,185.3 364.5,177.9 372.5,181.1 380.5,189.1 388.5,197.3 396.5,207.1 404.5,213.7 412.5,207.5 420.5,194.1 428.5,177.3 436.5,162.9 444.5,153.7 452.5,148.5 460.5,146.5 468.5,144.1 476.5,138.9 484.5,132.7 492.5,126.7 500.5,120.3 508.5,113.7 516.5,112.5 524.5,117.1 532.5,122.5 540.5,127.3 548.5,136.3 556.5,142.7 564.5,153.1 572.5,165.3 580.5,180.7 588.5,201.9 596.5,229.5 604.5,248.3 612.5,270.7 620.5,306.3 628.5,336.1 636.5,369.1 644.5,397.5 652.5,412.9 660.5,391.9 668.5,369.9 676.5,337.1 684.5,319.3 692.5,285.7 700.5,261.7 708.5,222.3 716.5,182.3 724.5,128.7 732.5,106.3 740.5,95.7 748.5,104.1 756.5,132.5 764.5,174.9 772.5,212.1 780.5,238.3 788.5,257.5 796.5,253.7 804.5,232.1 812.5,200.9 820.5,181.5 828.5,163.7 836.5,159.7 844.5,161.9 852.5,176.9 860.5,191.3 868.5,205.9 876.5,209.9 884.5,223.3 892.5,224.7 900.5,218.5 908.5,217.5 916.5,217.7 924.5,209.5 932.5,203.7 940.5,201.7 948.5,192.7 956.5,182.9 964.5,172.7 972.5,164.7 980.5,160.5 988.5,158.3 996.5,168.7 1004.5,187.9 1012.5,205.5 1020.5,217.7 1028.5,221.1 1036.5,211.5 1044.5,192.7 1052.5,182.5 1060.5,174.9 1068.5,175.1 1076.5,183.1 1084.5,188.7 1092.5,184.7 1100.5,182.5 1108.5,182.7 1116.5,180.5 1124.5,177.7 1132.5,187.9 1140.5,190.7 1148.5,190.3 1156.5,187.1 1164.5,188.9 1172.5,181.3" fill="none" stroke="#ffa500" stroke-width="1"/></g><g clip-path="url(#cr)"><polyline points="4.5,584.4 12.5,587.9 20.5,591.0 28.5,590.3 36.5,589.2 44.5,594.9 52.5,590.8 60.5,591.5 68.5,596.9 76.5,592.6 84.5,596.2 92.5,589.0 100.5,587.2 108.5,587.9 116.5,590.5 124.5,591.5 132.5,588.0 140.5,594.6 148.5,597.4 156.5,601.0 164.5,601.8 172.5,602.3 180.5,598.2 188.5,594.6 196.5,591.6 204.5,595.7 212.5,589.1 220.5,591.2 228.5,586.0 236.5,585.2 244.5,586.7 252.5,588.9 260.5,592.3 268.5,595.7 276.5,596.7 284.5,589.0 292.5,589.2 300.5,585.8 308.5,588.3 316.5,583.5 324.5,584.9 332.5,582.0 340.5,582.3 348.5,583.9 356.5,576.4 364.5,574.4 372.5,585.5 380.5,590.2 388.5,591.4 396.5,586.4 404.5,580.7 412.5,576.3 420.5,574.2 428.5,572.3 436.5,571.2 444.5,571.8 452.5,571.6 460.5,573.2 468.5,570.5 476.5,566.5 484.5,565.9 492.5,565.9 500.5,567.1 508.5,564.3 516.5,567.3 524.5,576.5 532.5,577.8 540.5,577.8 548.5,580.5 556.5,578.5 564.5,590.8 572.5,593.3 580.5,596.1 588.5,601.4 596.5,604.2 604.5,604.4 612.5,607.3 620.5,612.3 628.5,612.6 636.5,614.3 644.5,608.7 652.5,600.6 660.5,583.6 668.5,584.0 676.5,582.3 684.5,588.4 692.5,575.4 700.5,571.1 708.5,566.0 716.5,565.1 724.5,564.3 732.5,569.6 740.5,570.4 748.5,573.0 756.5,581.7 764.5,586.4 772.5,587.7 780.5,582.8 788.5,581.4 796.5,578.6 804.5,575.6 812.5,573.0 820.5,574.3 828.5,573.7 836.5,578.2 844.5,578.0 852.5,581.8 860.5,582.6 868.5,582.0 876.5,580.2 884.5,585.5 892.5,581.9 900.5,578.2 908.5,580.8 916.5,579.8 924.5,580.2 932.5,578.1 940.5,576.6 948.5,574.7 956.5,573.1 964.5,573.3 972.5,572.7 980.5,574.4 988.5,573.7 996.5,583.4 1004.5,589.7 1012.5,587.4 1020.5,583.9 1028.5,576.5 1036.5,574.6 1044.5,574.4 1052.5,579.7 1060.5,578.8 1068.5,577.3 1076.5,581.6 1084.5,579.4 1092.5,576.6 1100.5,577.1 1108.5,577.7 1116.5,580.4 1124.5,577.3 1132.5,585.9 1140.5,579.7 1148.5,577.6 1156.5,577.4 1164.5,579.2 1172.5,579.4" fill="none" stroke="#1e90ff" stroke-width="1"/></g><g clip-path="url(#cd)"><rect x="4" y="659" width="1" height="4" fill="#c0c0c0"/><rect x="12" y="659" width="1" height="5" fill="#c0c0c0"/><rect x="20" y="659" width="1" height="7" fill="#c0c0c0"/><rect x="28" y="659" width="1" height="8" fill="#c0c0c0"/><rect x="36" y="659" width="1" height="8" fill="#c0c0c0"/><rect x="44" y="659" width="1" height="10" fill="#c0c0c0"/><rect x="52" y="659" width="1" height="11" fill="#c0c0c0"/><rect x="60" y="659" width="1" height="12" fill="#c0c0c0"/><rect x="68" y="659" width="1" height="14" fill="#c0c0c0"/><rect x="76" y="659" width="1" height="15" fill="#c0c0c0"/><rect x="84" y="659" width="1" height="17" fill="#c0c0c0"/><rect x="92" y="659" width="1" height="16" fill="#c0c0c0"/><rect x="100" y="659" width="1" height="16" fill="#c0c0c0"/><rect x="108" y="659" width="1" height="15" fill="#c0c0c0"/><rect x="116" y="659" width="1" height="15" fill="#c0c0c0"/><rect x="124" y="659" width="1" height="16" fill="#c0c0c0"/><rect x="132" y="659" width="1" height="15" fill="#c0c0c0"/><rect x="140" y="659" width="1" height="17" fill="#c0c0c0"/><rect x="148" y="659" width="1" height="19" fill="#c0c0c0"/><rect x="156" y="659" width="1" height="22" fill="#c0c0c0"/><rect x="164" y="659" width="1" height="24" fill="#c0c0c0"/><rect x="172" y="659" width="1" height="27" fill="#c0c0c0"/><rect x="180" y="659" width="1" height="27" fill="#c0c0c0"/><rect x="188" y="659" width="1" height="27" fill="#c0c0c0"/><rect x="196" y="659" width="1" height="25" fill="#c0c0c0"/><rect x="204" y="659" width="1" height="26" fill="#c0c0c0"/><rect x="212" y="659" width="1" height="24" fill="#c0c0c0"/><rect x="220" y="659" width="1" height="24" fill="#c0c0c0"/><rect x="228" y="659" width="1" height="22" fill="#c0c0c0"/><rect x="236" y="659" width="1" height="20" fill="#c0c0c0"/><rect x="244" y="659" width="1" height="18" fill="#c0c0c0"/><rect x="252" y="659" width="1" height="18" fill="#c0c0c0"/><rect x="260" y="659" width="1" height="18" fill="#c0c0c0"/><rect x="268" y="659" width="1" height="20" fill="#c0c0c0"/><rect x="276" y="659" width="1" height="21" fill="#c0c0c0"/><rect x="284" y="659" width="1" height="20" fill="#c0c0c0"/><rect x="292" y="659" width="1" height="20" fill="#c0c0c0"/><rect x="300" y="659" width="1" height="18" fill="#c0c0c0"/><rect x="308" y="659" width="1" height="17" fill="#c0c0c0"/><rect x="316" y="659" width="1" height="16" fill="#c0c0c0"/><rect x="324" y="659" width="1" height="14" fill="#c0c0c0"/><rect x="332" y="659" width="1" height="13" fill="#c0c0c0"/><rect x="340" y="659" width="1" height="11" fill="#c0c0c0"/><rect x="348" y="659" width="1" height="11" fill="#c0c0c0"/><rect x="356" y="659" width="1" height="8" fill="#c0c0c0"/><rect x="364" y="659" width="1" height="6" fill="#c0c0c0"/><rect x="372" y="659" width="1" height="6" fill="#c0c0c0"/><rect x="380" y="659" width="1" height="9" fill="#c0c0c0"/><rect x="388" y="659" width="1" height="11" fill="#c0c0c0"/><rect x="396" y="659" width="1" height="11" fill="#c0c0c0"/><rect x="404" y="659" width="1" height="10" fill="#c0c0c0"/><rect x="412" y="659" width="1" height="7" fill="#c0c0c0"/><rect x="420" y="659" width="1" height="4" fill="#c0c0c0"/><rect x="428" y="659" width="1" height="1" fill="#c0c0c0"/><rect x="436" y="657" width="1" height="3" fill="#c0c0c0"/><rect x="444" y="655" width="1" height="5" fill="#c0c0c0"/><rect x="452" y="653" width="1" height="7" fill="#c0c0c0"/><rect x="460" y="653" width="1" height="7" fill="#c0c0c0"/><rect x="468" y="651" width="1" height="9" fill="#c0c0c0"/><rect x="476" y="649" width="1" height="11" fill="#c0c0c0"/><rect x="484" y="647" width="1" height="13" fill="#c0c0c0"/><rect x="492" y="646" width="1" height="14" fill="#c0c0c0"/><rect x="500" y="645" width="1" height="15" fill="#c0c0c0"/><rect x="508" y="644" width="1" height="16" fill="#c0c0c0"/><rect x="516" y="644" width="1" height="16" fill="#c0c0c0"/><rect x="524" y="645" width="1" height="15" fill="#c0c0c0"/><rect x="532" y="647" width="1" height="13" fill="#c0c0c0"/><rect x="540" y="648" width="1" height="12" fill="#c0c0c0"/><rect x="548" y="650" width="1" height="10" fill="#c0c0c0"/><rect x="556" y="651" width="1" height="9" fill="#c0c0c0"/><rect x="564" y="655" width="1" height="5" fill="#c0c0c0"/><rect x="572" y="659" width="1" height="1" fill="#c0c0c0"/><rect x="580" y="659" width="1" height="5" fill="#c0c0c0"/><rect x="588" y="659" width="1" height="11" fill="#c0c0c0"/><rect x="596" y="659" width="1" height="17" fill="#c0c0c0"/><rect x="604" y="659" width="1" height="21" fill="#c0c0c0"/><rect x="612" y="659" width="1" height="27" fill="#c0c0c0"/><rect x="620" y="659" width="1" height="36" fill="#c0c0c0"/><rect x="628" y="659" width="1" height="43" fill="#c0c0c0"/><rect x="636" y="659" width="1" height="51" fill="#c0c0c0"/><rect x="644" y="659" width="1" height="55" fill="#c0c0c0"/><rect x="652" y="659" width="1" height="56" fill="#c0c0c0"/><rect x="660" y="659" width="1" height="49" fill="#c0c0c0"/><rect x="668" y="659" width="1" height="44" fill="#c0c0c0"/><rect x="676" y="659" width="1" height="38" fill="#c0c0c0"/><rect x="684" y="659" width="1" height="37" fill="#c0c0c0"/><rect x="692" y="659" width="1" height="28" fill="#c0c0c0"/><rect x="700" y="659" width="1" height="18" fill="#c0c0c0"/><rect x="708" y="659" width="1" height="4" fill="#c0c0c0"/><rect x="716" y="651" width="1" height="9" fill="#c0c0c0"/><rect x="724" y="641" width="1" height="19" fill="#c0c0c0"/><rect x="732" y="637" width="1" height="23" fill="#c0c0c0"/><rect x="740" y="634" width="1" height="26" fill="#c0c0c0"/><rect x="748" y="633" width="1" height="27" fill="#c0c0c0"/><rect x="756" y="638" width="1" height="22" fill="#c0c0c0"/><rect x="764" y="646" width="1" height="14" fill="#c0c0c0"/><rect x="772" y="654" width="1" height="6" fill="#c0c0c0"/><rect x="780" y="657" width="1" height="3" fill="#c0c0c0"/><rect x="788" y="658" width="1" height="2" fill="#c0c0c0"/><rect x="796" y="657" width="1" height="3" fill="#c0c0c0"/><rect x="804" y="654" width="1" height="6" fill="#c0c0c0"/><rect x="812" y="650" width="1" height="10" fill="#c0c0c0"/><rect x="820" y="648" width="1" height="12" fill="#c0c0c0"/><rect x="828" y="646" width="1" height="14" fill="#c0c0c0"/><rect x="836" y="647" width="1" height="13" fill="#c0c0c0"/><rect x="844" y="647" width="1" height="13" fill="#c0c0c0"/><rect x="852" y="650" width="1" height="10" fill="#c0c0c0"/><rect x="860" y="653" width="1" height="7" fill="#c0c0c0"/><rect x="868" y="655" width="1" height="5" fill="#c0c0c0"/><rect x="876" y="656" width="1" height="4" fill="#c0c0c0"/><rect x="884" y="659" width="1" height="1" fill="#c0c0c0"/><rect x="892" y="659" width="1" height="2" fill="#c0c0c0"/><rect x="900" y="659" width="1" height="1" fill="#c0c0c0"/><rect x="908" y="659" width="1" height="2" fill="#c0c0c0"/><rect x="916" y="659" width="1" height="1" fill="#c0c0c0"/><rect x="924" y="659" width="1" height="1" fill="#c0c0c0"/><rect x="932" y="658" width="1" height="2" fill="#c0c0c0"/><rect x="940" y="657" width="1" height="3" fill="#c0c0c0"/><rect x="948" y="655" width="1" height="5" fill="#c0c0c0"/><rect x="956" y="653" width="1" height="7" fill="#c0c0c0"/><rect x="964" y="651" width="1" height="9" fill="#c0c0c0"/><rect x="972" y="650" width="1" height="10" fill="#c0c0c0"/><rect x="980" y="649" width="1" height="11" fill="#c0c0c0"/><rect x="988" y="649" width="1" height="11" fill="#c0c0c0"/><rect x="996" y="651" width="1" height="9" fill="#c0c0c0"/><rect x="1004" y="657" width="1" height="3" fill="#c0c0c0"/><rect x="1012" y="659" width="1" height="2" fill="#c0c0c0"/><rect x="1020" y="659" width="1" height="4" fill="#c0c0c0"/><rect x="1028" y="659" width="1" height="2" fill="#c0c0c0"/><rect x="1036" y="657" width="1" height="3" fill="#c0c0c0"/><rect x="1044" y="655" width="1" height="5" fill="#c0c0c0"/><rect x="1052" y="656" width="1" height="4" fill="#c0c0c0"/><rect x="1060" y="656" width="1" height="4" fill="#c0c0c0"/><rect x="1068" y="655" width="1" height="5" fill="#c0c0c0"/><rect x="1076" y="656" width="1" height="4" fill="#c0c0c0"/><rect x="1084" y="657" width="1" height="3" fill="#c0c0c0"/><rect x="1092" y="656" width="1" height="4" fill="#c0c0c0"/><rect x="1100" y="655" width="1" height="5" fill="#c0c0c0"/><rect x="1108" y="655" width="1" height="5" fill="#c0c0c0"/><rect x="1116" y="656" width="1" height="4" fill="#c0c0c0"/><rect x="1124" y="655" width="1" height="5" fill="#c0c0c0"/><rect x="1132" y="658" width="1" height="2" fill="#c0c0c0"/><rect x="1140" y="658" width="1" height="2" fill="#c0c0c0"/><rect x="1148" y="657" width="1" height="3" fill="#c0c0c0"/><rect x="1156" y="657" width="1" height="3" fill="#c0c0c0"/><rect x="1164" y="657" width="1" height="3" fill="#c0c0c0"/><rect x="1172" y="657" width="1" height="3" fill="#c0c0c0"/><polyline points="4.5,655.9 12.5,657.0 20.5,657.9 28.5,659.8 36.5,661.0 44.5,662.8 52.5,663.9 60.5,665.1 68.5,667.3 76.5,668.5 84.5,669.8 92.5,670.8 100.5,671.7 108.5,672.4 116.5,673.0 124.5,673.5 132.5,673.8 140.5,674.1 148.5,674.6 156.5,675.1 164.5,676.0 172.5,677.3 180.5,678.6 188.5,679.9 196.5,681.0 204.5,682.2 212.5,683.0 220.5,683.6 228.5,683.5 236.5,683.0 244.5,682.1 252.5,681.1 260.5,680.1 268.5,679.5 276.5,679.0 284.5,678.5 292.5,678.1 300.5,677.7 308.5,677.4 316.5,677.1 324.5,676.7 332.5,676.1 340.5,675.2 348.5,674.0 356.5,672.7 364.5,671.2 372.5,669.9 380.5,668.9 388.5,668.3 396.5,667.9 404.5,667.6 412.5,667.1 420.5,666.4 428.5,665.6 436.5,664.9 444.5,663.8 452.5,662.3 460.5,660.5 468.5,658.6 476.5,656.5 484.5,654.5 492.5,652.7 500.5,651.1 508.5,649.7 516.5,648.5 524.5,647.6 532.5,646.9 540.5,646.6 548.5,646.8 556.5,647.2 564.5,648.2 572.5,649.8 580.5,651.9 588.5,654.7 596.5,658.0 604.5,661.6 612.5,665.6 620.5,670.5 628.5,676.0 636.5,682.0 644.5,688.1 652.5,693.7 660.5,698.0 668.5,701.0 676.5,702.9 684.5,704.0 692.5,703.2 700.5,700.3 708.5,695.2 716.5,688.2 724.5,680.2 732.5,672.3 740.5,664.8 748.5,657.8 756.5,651.5 764.5,647.1 772.5,644.7 780.5,644.1 788.5,644.8 796.5,646.6 804.5,648.5 812.5,650.4 820.5,652.0 828.5,652.8 836.5,652.8 844.5,652.1 852.5,651.4 860.5,650.8 868.5,650.6 876.5,650.8 884.5,651.8 892.5,653.2 900.5,654.6 908.5,656.1 916.5,657.4 924.5,658.4 932.5,659.0 940.5,659.2 948.5,659.1 956.5,658.4 964.5,657.4 972.5,656.3 980.5,655.1 988.5,653.9 996.5,653.1 1004.5,652.9 1012.5,653.2 1020.5,653.9 1028.5,654.7 1036.5,655.4 1044.5,656.0 1052.5,656.7 1060.5,657.5 1068.5,658.0 1076.5,657.9 1084.5,657.5 1092.5,656.9 1100.5,656.4 1108.5,656.1 1116.5,656.2 1124.5,656.2 1132.5,656.4 1140.5,656.8 1148.5,656.9 1156.5,656.9 1164.5,657.0 1172.5,657.2" fill="none" stroke="#ff0000" stroke-width="1" stroke-dasharray="3,3"/></g><rect x="4" y="60" width="1484" height="2" fill="#ff0000"/><rect x="3" y="58" width="6" height="6" fill="#ff0000"/><rect x="5" y="60" width="2" height="2" fill="#fff"/><rect x="1482" y="58" width="6" height="6" fill="#ff0000"/><rect x="1484" y="60" width="2" height="2" fill="#fff"/><rect x="1490" y="55" width="39" height="11" fill="#ff0000"/><rect x="4" y="124" width="1484" height="2" fill="#ff0000"/><rect x="3" y="122" width="6" height="6" fill="#ff0000"/><rect x="5" y="124" width="2" height="2" fill="#fff"/><rect x="1482" y="122" width="6" height="6" fill="#ff0000"/><rect x="1484" y="124" width="2" height="2" fill="#fff"/><rect x="1490" y="119" width="39" height="11" fill="#ff0000"/><rect x="4" y="201" width="1484" height="2" fill="#00ff00"/><rect x="3" y="199" width="6" height="6" fill="#00ff00"/><rect x="5" y="201" width="2" height="2" fill="#fff"/><rect x="1482" y="199" width="6" height="6" fill="#00ff00"/><rect x="1484" y="201" width="2" height="2" fill="#fff"/><rect x="1490" y="196" width="39" height="11" fill="#00ff00"/><rect x="4" y="273" width="1484" height="2" fill="#0000ff"/><rect x="3" y="271" width="6" height="6" fill="#0000ff"/><rect x="5" y="273" width="2" height="2" fill="#fff"/><rect x="1482" y="271" width="6" height="6" fill="#0000ff"/><rect x="1484" y="273" width="2" height="2" fill="#fff"/><rect x="1490" y="268" width="39" height="11" fill="#0000ff"/><rect x="4" y="352" width="1484" height="2" fill="#0000ff"/><rect x="3" y="350" width="6" height="6" fill="#0000ff"/><rect x="5" y="352" width="2" height="2" fill="#fff"/><rect x="1482" y="350" width="6" height="6" fill="#0000ff"/><rect x="1484" y="352" width="2" height="2" fill="#fff"/><rect x="1490" y="347" width="39" height="11" fill="#0000ff"/><rect x="1490" y="179" width="39" height="11" fill="#000"/><path d="M1185 27 L1194 27 L1189.5 32 Z" fill="#c0c0c0"/><path d="M7 33 L14 33 L10.5 37 Z" fill="#000"/></svg>
<div class="t" style="left:1494px;top:57px;font-size:10px;color:#fff;transform:scaleX(0.917);transform-origin:0 0;">0.99007</div>
<div class="t" style="left:1494px;top:121px;font-size:10px;color:#fff;transform:scaleX(0.917);transform-origin:0 0;">0.98010</div>
<div class="t" style="left:1494px;top:198px;font-size:10px;color:#fff;transform:scaleX(0.917);transform-origin:0 0;">0.96803</div>
<div class="t" style="left:1494px;top:270px;font-size:10px;color:#fff;transform:scaleX(0.917);transform-origin:0 0;">0.95658</div>
<div class="t" style="left:1494px;top:349px;font-size:10px;color:#fff;transform:scaleX(0.917);transform-origin:0 0;">0.94414</div>
<div class="t" style="left:1494px;top:181px;font-size:10px;color:#fff;transform:scaleX(0.917);transform-origin:0 0;">0.97083</div>
</body></html>
